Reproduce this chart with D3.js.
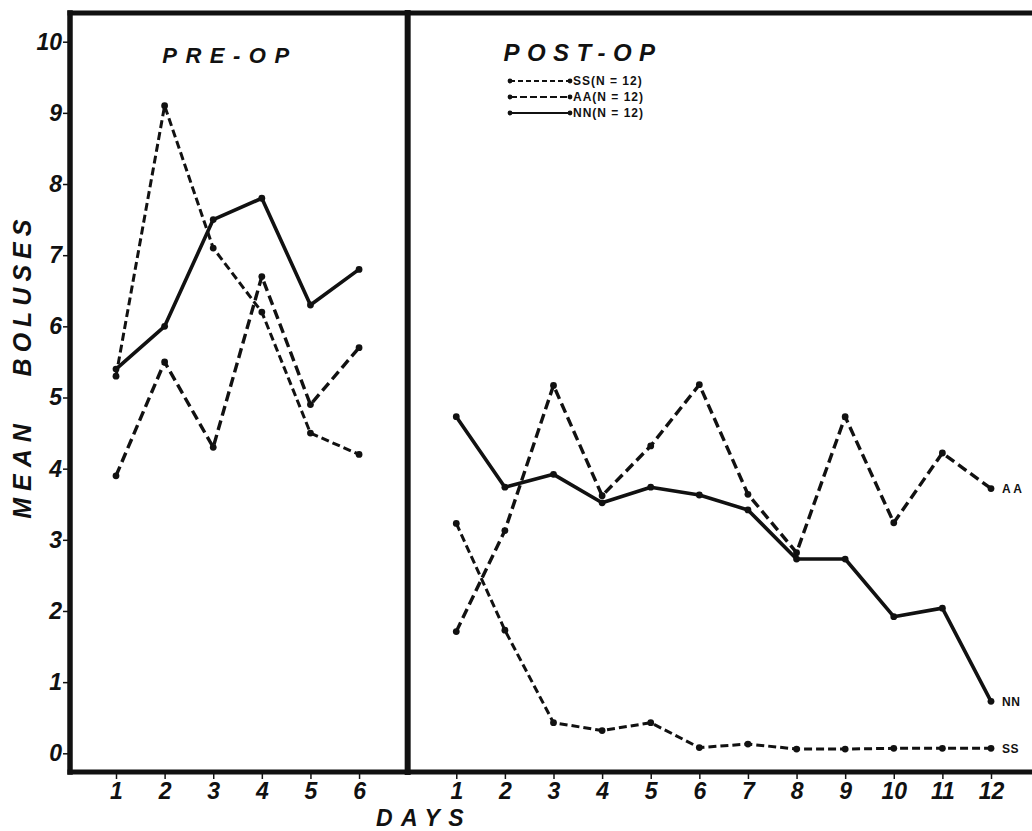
<!DOCTYPE html>
<meta charset="utf-8">
<style>
    body { margin: 0; background: #fff; }
    svg { display: block; }
    .frame { stroke: #111; fill: none; stroke-linecap: square; }
    .axis .domain { display: none; }
    .axis line { stroke: #111; stroke-width: 1.5px; }
    .axis text { font-family: "Liberation Sans", Arial, sans-serif; font-style: italic; font-weight: bold; font-size: 23px; fill: #111; }
    .title { font-family: "Liberation Sans", Arial, sans-serif; font-style: italic; font-weight: bold; fill: #111; }
    .legend text, .end-label { font-family: "Liberation Sans", Arial, sans-serif; font-weight: bold; font-size: 12px; fill: #111; }
</style>
<body>
<script src="https://d3js.org/d3.v7.min.js"></script>
<script>
    // days on each side of the operation
    var preDays = [1, 2, 3, 4, 5, 6];
    var postDays = [1, 2, 3, 4, 5, 6, 7, 8, 9, 10, 11, 12];
    var yTicks = [0, 1, 2, 3, 4, 5, 6, 7, 8, 9, 10];

    // mean boluses
    var ssPre = [5.3, 9.1, 7.1, 6.2, 4.5, 4.2];
    var aaPre = [3.9, 5.5, 4.3, 6.7, 4.9, 5.7];
    var nnPre = [5.4, 6.0, 7.5, 7.8, 6.3, 6.8];
    var ssPost = [3.23, 1.73, 0.43, 0.32, 0.43, 0.08, 0.13, 0.06, 0.06, 0.07, 0.07, 0.07];
    var aaPost = [1.71, 3.13, 5.17, 3.62, 4.32, 5.18, 3.64, 2.82, 4.73, 3.24, 4.22, 3.72];
    var nnPost = [4.73, 3.74, 3.92, 3.52, 3.74, 3.63, 3.42, 2.73, 2.73, 1.92, 2.04, 0.73];

    var groups = ["SS", "AA", "NN"];
    var groupN = [12, 12, 12];

    var W = 1032, H = 831;
    var svg = d3.select("body").append("svg")
        .attr("width", W)
        .attr("height", H);

    // one slot per day, post-op days start two slots after day 6
    var postOffset = 7;
    var x = d3.scaleLinear().domain([1, 19]).range([116, 991]);
    var y = d3.scaleLinear().domain([0, 10]).range([753.3, 41.7]);

    var axisX = 70, topY = 13, baseY = 772;
    var dividerX = x(postOffset);

    // line styles per group
    var style = {
        SS: { dash: "8,4", width: 3 },
        AA: { dash: "10,5", width: 3.4 },
        NN: { dash: null, width: 3.6 }
    };

    var series = [
        { g: "SS", side: "pre", values: ssPre },
        { g: "AA", side: "pre", values: aaPre },
        { g: "NN", side: "pre", values: nnPre },
        { g: "SS", side: "post", values: ssPost },
        { g: "AA", side: "post", values: aaPost },
        { g: "NN", side: "post", values: nnPost }
    ];
    series.forEach(function (s) {
        var days = s.side == "pre" ? preDays : postDays;
        var off = s.side == "pre" ? 0 : postOffset;
        s.points = s.values.map(function (v, i) { return { slot: days[i] + off, v: v }; });
    });

    var line = d3.line()
        .x(function (d) { return x(d.slot); })
        .y(function (d) { return y(d.v); });

    // frame
    svg.append("line").attr("class", "frame")
        .attr("x1", axisX).attr("x2", W).attr("y1", topY).attr("y2", topY)
        .attr("stroke-width", 5);
    svg.append("line").attr("class", "frame")
        .attr("x1", axisX).attr("x2", axisX).attr("y1", topY).attr("y2", baseY)
        .attr("stroke-width", 5.5);
    svg.append("line").attr("class", "frame")
        .attr("x1", axisX).attr("x2", W).attr("y1", baseY).attr("y2", baseY)
        .attr("stroke-width", 5);
    svg.append("line").attr("class", "frame")
        .attr("x1", dividerX).attr("x2", dividerX).attr("y1", topY).attr("y2", baseY)
        .attr("stroke-width", 6);

    // axes
    var slots = preDays.concat(postDays.map(function (d) { return d + postOffset; }));
    svg.append("g")
        .attr("class", "axis")
        .attr("transform", "translate(0," + (baseY + 2) + ")")
        .call(d3.axisBottom(x).tickValues(slots).tickSize(5).tickPadding(4)
            .tickFormat(function (d) { return d > postOffset ? d - postOffset : d; }));

    svg.append("g")
        .attr("class", "axis")
        .attr("transform", "translate(" + (axisX - 2) + ",0)")
        .call(d3.axisLeft(y).tickValues(yTicks).tickSize(5).tickPadding(1));

    // lines and dots
    series.forEach(function (s) {
        svg.append("path")
            .datum(s.points)
            .attr("d", line)
            .attr("fill", "none")
            .attr("stroke", "#111")
            .attr("stroke-width", style[s.g].width)
            .attr("stroke-dasharray", style[s.g].dash)
            .attr("stroke-linejoin", "round");
        svg.selectAll(null)
            .data(s.points)
            .enter().append("circle")
            .attr("cx", function (d) { return x(d.slot); })
            .attr("cy", function (d) { return y(d.v); })
            .attr("r", 3.4)
            .attr("fill", "#111");
    });

    // labels at the end of the post-op lines
    series.filter(function (s) { return s.side == "post"; }).forEach(function (s) {
        var last = s.points[s.points.length - 1];
        svg.append("text")
            .attr("class", "end-label")
            .attr("x", x(last.slot) + 11)
            .attr("y", y(last.v))
            .attr("dy", "0.36em")
            .style("letter-spacing", s.g == "AA" ? "2.5px" : "0.5px")
            .text(s.g);
    });

    // panel titles
    svg.append("text").attr("class", "title")
        .attr("x", 230).attr("y", 63)
        .attr("text-anchor", "middle")
        .style("font-size", "22px").style("letter-spacing", "8.5px")
        .text("PRE-OP");
    svg.append("text").attr("class", "title")
        .attr("x", 583).attr("y", 61)
        .attr("text-anchor", "middle")
        .style("font-size", "24px").style("letter-spacing", "7.5px")
        .text("POST-OP");

    // legend
    var legend = svg.selectAll(".legend")
        .data(groups)
        .enter().append("g")
        .attr("class", "legend")
        .attr("transform", function (d, i) { return "translate(510," + (81 + i * 16) + ")"; });
    legend.append("line")
        .attr("x1", 0).attr("x2", 60)
        .attr("stroke", "#111")
        .attr("stroke-width", 1.8)
        .attr("stroke-dasharray", function (d) { return d == "SS" ? "5,3" : d == "AA" ? "7,3" : null; });
    legend.append("circle").attr("cx", 0).attr("r", 2.4).attr("fill", "#111");
    legend.append("circle").attr("cx", 60).attr("r", 2.4).attr("fill", "#111");
    legend.append("text")
        .attr("x", 63)
        .attr("dy", "0.36em")
        .style("letter-spacing", "1px")
        .text(function (d, i) { return d + "(N = " + groupN[i] + ")"; });

    // axis titles
    svg.append("text").attr("class", "title")
        .attr("transform", "translate(31,468) rotate(-90)")
        .attr("text-anchor", "middle")
        .style("font-size", "25px").style("letter-spacing", "7px")
        .text("MEAN");
    svg.append("text").attr("class", "title")
        .attr("transform", "translate(31,295) rotate(-90)")
        .attr("text-anchor", "middle")
        .style("font-size", "25px").style("letter-spacing", "6px")
        .text("BOLUSES");
    svg.append("text").attr("class", "title")
        .attr("x", 424).attr("y", 826)
        .attr("text-anchor", "middle")
        .style("font-size", "23px").style("letter-spacing", "8.5px")
        .text("DAYS");
</script>
</body>
